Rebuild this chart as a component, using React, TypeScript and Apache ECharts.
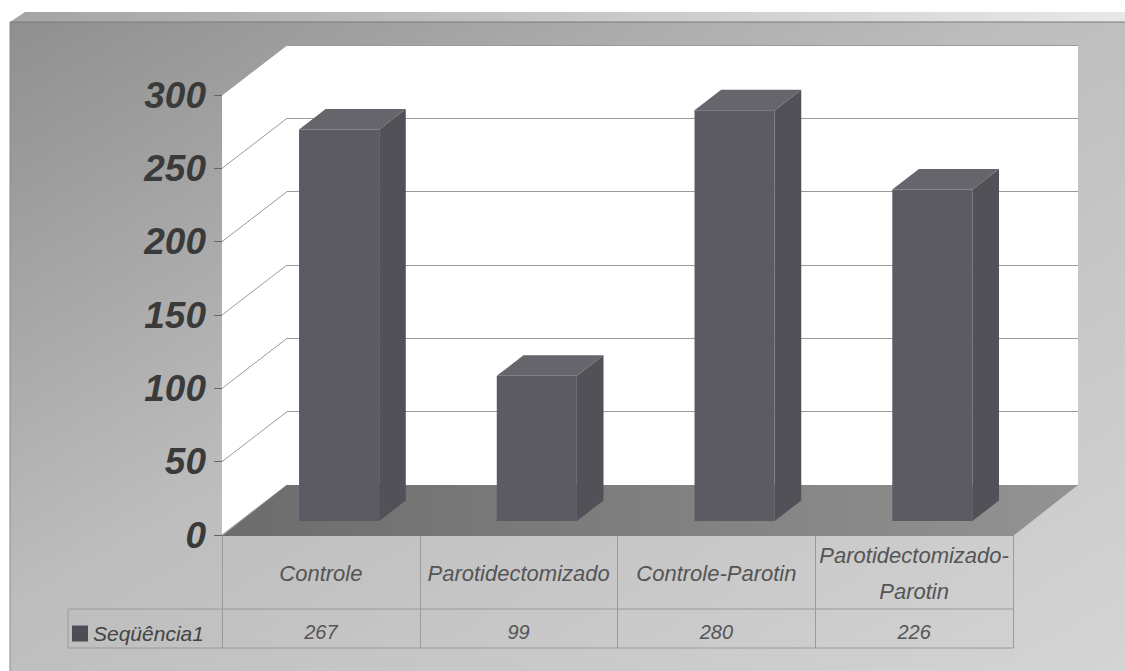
import React, { useEffect, useRef } from "react";
import * as echarts from "echarts";

const categories = ["Controle", "Parotidectomizado", "Controle-Parotin", "Parotidectomizado-Parotin"];
const seriesName = "Seqüência1";
const values = [267, 99, 280, 226];
const yTicks = [0, 50, 100, 150, 200, 250, 300];

const FRONT = { left: 222, top: 95, width: 791, height: 440 };
const DEPTH_X = 65;
const DEPTH_Y = 50;
const BACK = { left: FRONT.left + DEPTH_X, top: FRONT.top - DEPTH_Y, width: FRONT.width, height: FRONT.height };
const BAR_FRONT = 0.28;
const BAR_DEPTH = 0.41;
const BAR_WIDTH = 0.405;
const FONT = "'Liberation Sans', Arial, sans-serif";

export default function App() {
  const ref = useRef<HTMLDivElement>(null);
  useEffect(() => {
    const chart = echarts.init(ref.current!, null, { renderer: "svg" });

    const scene = {
      type: "custom",
      name: "scene",
      xAxisIndex: 0,
      yAxisIndex: 0,
      silent: true,
      z: 1,
      data: [[0, 0]],
      renderItem: (params: any, api: any) => {
        const cs = params.coordSys;
        const lx = cs.x;
        const rx = cs.x + cs.width;
        const y0 = api.coord([0, 0])[1];
        const yTop = api.coord([0, yTicks[yTicks.length - 1]])[1];
        const children: any[] = [];
        children.push({
          type: "polygon",
          shape: { points: [[lx, yTop], [lx + DEPTH_X, yTop - DEPTH_Y], [lx + DEPTH_X, y0 - DEPTH_Y], [lx, y0]] },
          style: { fill: "#ffffff" },
        });
        yTicks.forEach((t) => {
          const y = api.coord([0, t])[1];
          children.push({
            type: "line",
            shape: { x1: lx, y1: y, x2: lx + DEPTH_X, y2: y - DEPTH_Y },
            style: { stroke: "#9a9a9a", lineWidth: 1 },
          });
        });
        children.push({
          type: "polygon",
          shape: { points: [[lx, y0 + 1], [lx + DEPTH_X, y0 - DEPTH_Y], [rx + DEPTH_X, y0 - DEPTH_Y], [rx, y0 + 1]] },
          style: {
            fill: new echarts.graphic.LinearGradient(0, 0, 1, 0, [
              { offset: 0, color: "#6c6c6c" },
              { offset: 1, color: "#939393" },
            ]),
          },
        });
        return { type: "group", children };
      },
    };

    const bars = {
      type: "custom",
      name: seriesName,
      xAxisIndex: 0,
      yAxisIndex: 0,
      z: 3,
      itemStyle: { color: "#4e4d54" },
      encode: { x: 0, y: 1 },
      data: values.map((v, i) => [i, v]),
      renderItem: (params: any, api: any) => {
        const i = api.value(0);
        const v = api.value(1);
        const base = api.coord([i, 0]);
        const top = api.coord([i, v]);
        const bw = api.size([1, 0])[0] * BAR_WIDTH;
        const ox = BAR_FRONT * DEPTH_X;
        const oy = BAR_FRONT * DEPTH_Y;
        const bdx = BAR_DEPTH * DEPTH_X;
        const bdy = BAR_DEPTH * DEPTH_Y;
        const x0 = base[0] + ox - bw / 2;
        const x1 = x0 + bw;
        const yb = base[1] - oy;
        const yt = top[1] - oy;
        return {
          type: "group",
          children: [
            {
              type: "polygon",
              shape: { points: [[x1, yt], [x1 + bdx, yt - bdy], [x1 + bdx, yb - bdy], [x1, yb]] },
              style: { fill: "#525158" },
            },
            {
              type: "polygon",
              shape: { points: [[x0, yt], [x0 + bdx, yt - bdy], [x1 + bdx, yt - bdy], [x1, yt]] },
              style: { fill: "#66656c" },
            },
            {
              type: "rect",
              shape: { x: x0, y: yt, width: bw, height: yb - yt },
              style: { fill: "#5c5b63" },
            },
            {
              type: "text",
              style: {
                text: String(v),
                x: base[0],
                y: base[1] + 97,
                align: "center",
                textAlign: "center",
                verticalAlign: "middle",
                textVerticalAlign: "middle",
                fontSize: 20,
                fontStyle: "italic",
                fontFamily: FONT,
                fill: "#555555",
              },
            },
          ],
        };
      },
    };

    const option = {
      animation: false,
      backgroundColor: "#ffffff",
      textStyle: { fontFamily: FONT },
      graphic: [
        {
          type: "rect",
          z: -100,
          silent: true,
          shape: { x: 10, y: 22, width: 1115, height: 649 },
          style: {
            fill: new echarts.graphic.LinearGradient(0, 0, 1, 1, [
              { offset: 0, color: "#8f8f8f" },
              { offset: 0.45, color: "#bdbdbd" },
              { offset: 1, color: "#d4d4d4" },
            ]),
          },
        },
        {
          type: "polygon",
          z: -100,
          silent: true,
          shape: { points: [[10, 22], [25, 12], [1125, 12], [1125, 22]] },
          style: {
            fill: new echarts.graphic.LinearGradient(0, 0, 1, 0, [
              { offset: 0, color: "#a4a4a4" },
              { offset: 1, color: "#e8e8e8" },
            ]),
          },
        },
        { type: "line", z: -99, silent: true, shape: { x1: 10, y1: 22, x2: 1125, y2: 22 }, style: { stroke: "#7a7a7a", lineWidth: 1 } },
        { type: "line", z: -99, silent: true, shape: { x1: 10, y1: 22, x2: 10, y2: 671 }, style: { stroke: "#8a8a8a", lineWidth: 1 } },
        { type: "line", z: 10, silent: true, shape: { x1: 68, y1: 609, x2: 1013, y2: 609 }, style: { stroke: "#9a9a9a", lineWidth: 1 } },
        { type: "line", z: 10, silent: true, shape: { x1: 68, y1: 648, x2: 1013, y2: 648 }, style: { stroke: "#9a9a9a", lineWidth: 1 } },
        { type: "line", z: 10, silent: true, shape: { x1: 68, y1: 609, x2: 68, y2: 648 }, style: { stroke: "#9a9a9a", lineWidth: 1 } },
      ],
      legend: {
        data: [{ name: seriesName, icon: "rect" }],
        left: 72,
        top: 623,
        padding: 0,
        itemWidth: 16,
        itemHeight: 16,
        itemGap: 6,
        selectedMode: false,
        textStyle: { fontSize: 21, fontStyle: "italic", color: "#444444", fontFamily: FONT },
      },
      grid: [
        { ...FRONT, containLabel: false },
        { ...BACK, show: true, backgroundColor: "#ffffff", borderWidth: 0 },
      ],
      xAxis: [
        {
          gridIndex: 0,
          type: "category",
          data: categories,
          axisLine: { show: false },
          axisTick: { show: true, length: 113, lineStyle: { color: "#9a9a9a" } },
          axisLabel: {
            interval: 0,
            fontSize: 22,
            fontStyle: "italic",
            color: "#555555",
            margin: 38,
            verticalAlign: "middle",
            lineHeight: 36,
            fontFamily: FONT,
            formatter: (v: string) => (v.length > 18 ? v.replace("-", "-\n") : v),
          },
          splitLine: { show: false },
        },
        { gridIndex: 1, type: "category", data: categories, show: false },
      ],
      yAxis: [
        {
          gridIndex: 0,
          type: "value",
          min: 0,
          max: 300,
          interval: 50,
          axisLine: { show: false },
          axisTick: { show: true, length: 8, lineStyle: { color: "#666666" } },
          axisLabel: { fontSize: 37, fontWeight: "bold", fontStyle: "italic", color: "#3a3a3a", margin: 16, fontFamily: FONT },
          splitLine: { show: false },
        },
        {
          gridIndex: 1,
          type: "value",
          min: 0,
          max: 300,
          interval: 50,
          axisLine: { show: false },
          axisTick: { show: false },
          axisLabel: { show: false },
          splitLine: { show: true, lineStyle: { color: "#9a9a9a", width: 1 } },
        },
      ],
      series: [scene, bars],
    };

    chart.setOption(option as any);
    return () => chart.dispose();
  }, []);

  return <div ref={ref} style={{ position: "fixed", left: 0, top: 0, width: 1125, height: 671 }} />;
}
